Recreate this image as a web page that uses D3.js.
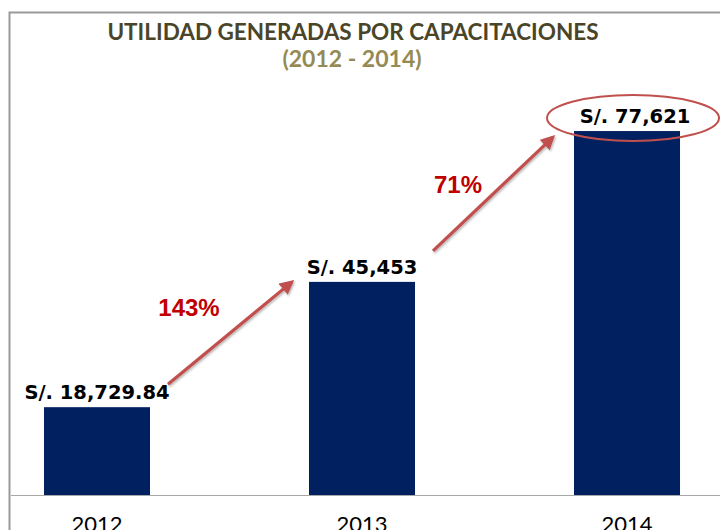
<!DOCTYPE html>
<html>
<head>
<meta charset="utf-8">
<script src="https://cdn.jsdelivr.net/npm/d3@7"></script>
<style>
  body { margin: 0; background: #fff; }
  svg { display: block; }
</style>
</head>
<body>
<svg id="chart" width="720" height="530"></svg>
<script>
const years = ["2012", "2013", "2014"];
const values = [18729.84, 45453, 77621];
const valueLabels = ["S/. 18,729.84", "S/. 45,453", "S/. 77,621"];
const growth = ["143%", "71%"];

const svg = d3.select("#chart");

const x = d3.scaleBand()
  .domain(years)
  .range([9, 715])
  .paddingInner(0.6)
  .paddingOuter(0.132);

const y = d3.scaleLinear()
  .domain([0, 90000])
  .range([495, 73]);

// frame
svg.append("path")
  .attr("d", "M9.5,530 V12.5 H720")
  .attr("fill", "none")
  .attr("stroke", "#999")
  .attr("stroke-width", 2);

// title
svg.append("text")
  .attr("x", 353).attr("y", 40)
  .attr("text-anchor", "middle")
  .attr("font-family", "Lato, sans-serif")
  .attr("font-weight", "bold")
  .attr("font-size", 22.5)
  .attr("fill", "#4a4529")
  .text("UTILIDAD GENERADAS POR CAPACITACIONES");

svg.append("text")
  .attr("x", 352).attr("y", 67)
  .attr("text-anchor", "middle")
  .attr("font-family", "Lato, sans-serif")
  .attr("font-weight", "bold")
  .attr("font-size", 23)
  .attr("fill", "#948a54")
  .text("(2012 - 2014)");

// bars
svg.selectAll("rect.bar")
  .data(values)
  .join("rect")
  .attr("class", "bar")
  .attr("x", (d, i) => x(years[i]))
  .attr("y", d => y(d))
  .attr("width", x.bandwidth())
  .attr("height", d => y(0) - y(d))
  .attr("fill", "#002060");

// baseline + category axis
const xAxis = svg.append("g")
  .attr("transform", `translate(0,${y(0)})`)
  .call(d3.axisBottom(x).tickSize(0).tickPadding(21));
xAxis.select(".domain").attr("d", "M11,0.5H720").attr("stroke", "#a6a6a6");
xAxis.selectAll("text")
  .attr("font-family", "Lato, sans-serif")
  .attr("font-size", 22)
  .attr("fill", "#000");

// value labels
const last = years.length - 1;
svg.selectAll("text.val")
  .data(values)
  .join("text")
  .attr("class", "val")
  .attr("x", (d, i) => x(years[i]) + x.bandwidth() / 2 + (i === last ? 8 : 0))
  .attr("y", d => y(d) - 8)
  .attr("text-anchor", "middle")
  .attr("font-family", "DejaVu Sans, sans-serif")
  .attr("font-weight", "bold")
  .attr("font-size", 19.5)
  .attr("fill", "#000")
  .text((d, i) => valueLabels[i]);

// highlight ellipse on last value
svg.append("ellipse")
  .attr("cx", x(years[last]) + x.bandwidth() / 2 + 6)
  .attr("cy", y(values[last]) - 13)
  .attr("rx", 86)
  .attr("ry", 23)
  .attr("fill", "none")
  .attr("stroke", "#c0504d")
  .attr("stroke-width", 2);

// arrows
const defs = svg.append("defs");
defs.append("marker")
  .attr("id", "head")
  .attr("viewBox", "0 0 10 10")
  .attr("refX", 8).attr("refY", 5)
  .attr("markerWidth", 4.5).attr("markerHeight", 4.5)
  .attr("orient", "auto")
  .append("path")
  .attr("d", "M0,0 L10,5 L0,10 Z")
  .attr("fill", "#c0504d");
const shadow = defs.append("filter").attr("id", "shadow")
  .attr("x", "-20%").attr("y", "-20%").attr("width", "140%").attr("height", "140%");
shadow.append("feDropShadow")
  .attr("dx", 1).attr("dy", 1.5).attr("stdDeviation", 1)
  .attr("flood-color", "#000").attr("flood-opacity", 0.3);

const arrows = [
  { x1: x(years[0]) + x.bandwidth() + 18, y1: y(values[0]) - 23,
    x2: x(years[1]) - 17, y2: y(values[1]), ldx: -41, ldy: -17 },
  { x1: x(years[1]) + x.bandwidth() + 18, y1: y(values[1]) - 31,
    x2: x(years[2]) - 21, y2: y(values[2]) + 6, ldx: -35, ldy: -1 }
];

svg.selectAll("line.arrow")
  .data(arrows)
  .join("line")
  .attr("class", "arrow")
  .attr("x1", d => d.x1).attr("y1", d => d.y1)
  .attr("x2", d => d.x2).attr("y2", d => d.y2)
  .attr("stroke", "#c0504d")
  .attr("stroke-width", 3.2)
  .attr("marker-end", "url(#head)")
  .attr("filter", "url(#shadow)");

// growth labels
svg.selectAll("text.growth")
  .data(growth)
  .join("text")
  .attr("class", "growth")
  .attr("x", (d, i) => (arrows[i].x1 + arrows[i].x2) / 2 + arrows[i].ldx)
  .attr("y", (d, i) => (arrows[i].y1 + arrows[i].y2) / 2 + arrows[i].ldy)
  .attr("text-anchor", "middle")
  .attr("font-family", "Liberation Sans, Arial, sans-serif")
  .attr("font-weight", "bold")
  .attr("font-size", 24)
  .attr("fill", "#c00000")
  .text(d => d);
</script>
</body>
</html>
